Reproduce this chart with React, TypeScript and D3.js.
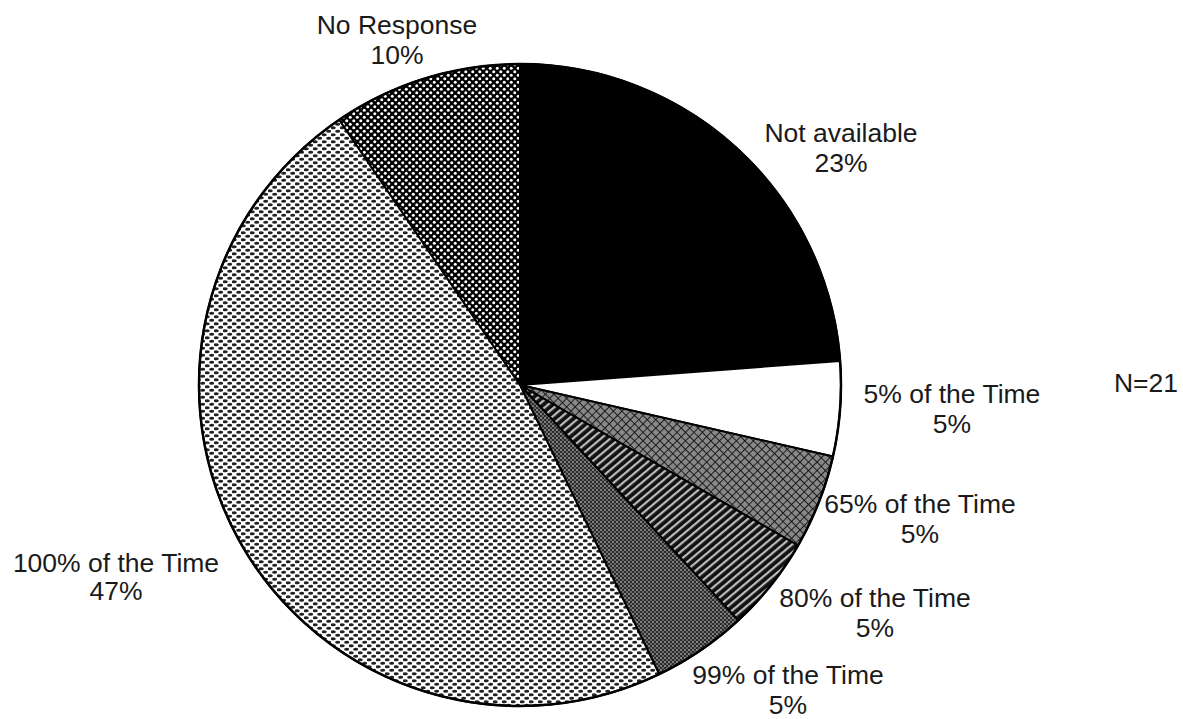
import React from "react";
import * as d3 from "d3";

const categories = [
  "Not available",
  "5% of the Time",
  "65% of the Time",
  "80% of the Time",
  "99% of the Time",
  "100% of the Time",
  "No Response",
];
// respondent counts (N=21)
const counts = [5, 1, 1, 1, 1, 10, 2];
const pctLabels = ["23%", "5%", "5%", "5%", "5%", "47%", "10%"];
const fills = [
  "#000",
  "#fff",
  "url(#cross)",
  "url(#stripes)",
  "url(#fineDots)",
  "url(#ovals)",
  "url(#whiteDots)",
];

// label anchors (centre x, baseline of first line)
const labelPos: [number, number][] = [
  [841, 142],
  [952, 403],
  [920, 513],
  [875, 607],
  [788, 684],
  [116, 572],
  [397, 34],
];

const W = 1183;
const H = 719;
const cx = 520;
const cy = 385;
const R = 321;

export default function App() {
  const pie = d3
    .pie<number>()
    .sort(null)
    .value((d) => d)
    .startAngle(0)
    .endAngle(2 * Math.PI);
  const arcs = pie(counts);
  const arc = d3.arc<d3.PieArcDatum<number>>().innerRadius(0).outerRadius(R);
  const font = "'Liberation Sans', Arial, Helvetica, sans-serif";

  return (
    <svg
      width={W}
      height={H}
      style={{ position: "absolute", left: 0, top: 0, background: "#fff" }}
    >
      <defs>
        <pattern id="ovals" width="9" height="7" patternUnits="userSpaceOnUse">
          <rect width="9" height="7" fill="#fff" />
          <ellipse cx="2.2" cy="1.75" rx="2.6" ry="1.5" fill="#222" />
          <ellipse cx="6.7" cy="5.25" rx="2.6" ry="1.5" fill="#222" />
        </pattern>
        <pattern id="whiteDots" width="7" height="7" patternUnits="userSpaceOnUse">
          <rect width="7" height="7" fill="#000" />
          <circle cx="1.75" cy="1.75" r="1.5" fill="#fff" />
          <circle cx="5.25" cy="5.25" r="1.5" fill="#fff" />
        </pattern>
        <pattern id="fineDots" width="4" height="4" patternUnits="userSpaceOnUse">
          <rect width="4" height="4" fill="#2a2a2a" />
          <circle cx="1" cy="1" r="0.9" fill="#aaa" />
          <circle cx="3" cy="3" r="0.9" fill="#888" />
        </pattern>
        <pattern
          id="cross"
          width="6"
          height="6"
          patternUnits="userSpaceOnUse"
          patternTransform="rotate(45)"
        >
          <rect width="6" height="6" fill="#888" />
          <line x1="0" y1="0" x2="6" y2="0" stroke="#111" strokeWidth="1.8" />
          <line x1="0" y1="0" x2="0" y2="6" stroke="#111" strokeWidth="1.8" />
        </pattern>
        <pattern
          id="stripes"
          width="6"
          height="6"
          patternUnits="userSpaceOnUse"
          patternTransform="rotate(-40)"
        >
          <rect width="6" height="6" fill="#111" />
          <rect width="6" height="2.2" y="2" fill="#bbb" />
        </pattern>
      </defs>
      <g transform={`translate(${cx},${cy})`}>
        {arcs.map((a, i) => (
          <path
            key={categories[i]}
            d={arc(a) ?? ""}
            fill={fills[i]}
            stroke="#000"
            strokeWidth={2}
            strokeLinejoin="round"
          />
        ))}
        <circle r={R} fill="none" stroke="#000" strokeWidth={2.5} />
      </g>
      <g fontFamily={font} fontSize={26.5} fill="#1a1a1a" textAnchor="middle">
        {categories.map((c, i) => (
          <text key={c} x={labelPos[i][0]} y={labelPos[i][1]}>
            <tspan x={labelPos[i][0]}>{c}</tspan>
            <tspan x={labelPos[i][0]} dy={i === 5 ? 28 : 30}>
              {pctLabels[i]}
            </tspan>
          </text>
        ))}
        <text x={1146} y={392}>
          N=21
        </text>
      </g>
    </svg>
  );
}
